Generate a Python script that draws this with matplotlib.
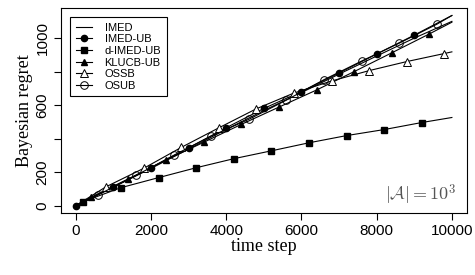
import matplotlib
matplotlib.use('Agg')
from matplotlib import pyplot as plt

# --------------------------- Data ---------------------------

imed_t = [0, 1000, 2000, 3000, 4000, 5000, 6000, 7000, 8000, 9000, 10000]
imed_y = [0, 110, 222, 338, 455, 568, 675, 785, 893, 1000, 1100]

imedub_t = [0, 1000, 2000, 3000, 4000, 5000, 6000, 7000, 8000, 9000, 10000]
imedub_y = [0, 113, 226, 345, 465, 580, 681, 792, 905, 1018, 1135]

dimedub_t = [0, 200, 1200, 2200, 3200, 4200, 5200, 6200, 7200, 8200, 9200, 10000]
dimedub_y = [0, 24, 107, 167, 226, 280, 327, 375, 418, 454, 496, 526]

klucbub_t = [0, 400, 1400, 2400, 3400, 4400, 5400, 6400, 7400, 8400, 9400, 10000]
klucbub_y = [0, 50, 160, 272, 378, 485, 588, 690, 800, 912, 1025, 1095]

ossb_t = [0, 800, 1800, 2800, 3800, 4800, 5800, 6800, 7800, 8800, 9800, 10000]
ossb_y = [0, 112, 222, 347, 464, 578, 672, 744, 806, 860, 908, 918]

osub_t = [0, 600, 1600, 2600, 3600, 4600, 5600, 6600, 7600, 8600, 9600, 10000]
osub_y = [0, 65, 180, 300, 415, 515, 630, 752, 863, 970, 1083, 1135]

y_ticks = [0, 200, 400, 600, 800, 1000]
y_tick_labels = ['0', '200', '', '600', '', '1000']
x_ticks = [0, 2000, 4000, 6000, 8000, 10000]

# --------------------------- Plot ---------------------------

fig = plt.figure(figsize=(4.75, 2.75), dpi=100)
ax = fig.add_axes([0.128, 0.225, 0.855, 0.746])

lw = 0.8
ms = 4.5
ax.plot(imed_t, imed_y, color='k', lw=lw, label='IMED')
ax.plot(imedub_t, imedub_y, color='k', lw=lw, marker='o', ms=ms,
        markevery=list(range(0, 10)), label='IMED-UB')
ax.plot(dimedub_t, dimedub_y, color='k', lw=lw, marker='s', ms=ms,
        markevery=list(range(1, 11)), label='d-IMED-UB')
ax.plot(klucbub_t, klucbub_y, color='k', lw=lw, marker='^', ms=ms,
        markevery=list(range(1, 11)), label='KLUCB-UB')
ax.plot(ossb_t, ossb_y, color='k', lw=lw, marker='^', ms=ms + 1,
        mfc='white', mew=0.7, markevery=list(range(1, 11)), label='OSSB')
ax.plot(osub_t, osub_y, color='k', lw=lw, marker='o', ms=ms + 1,
        mfc='none', mew=0.7, markevery=list(range(1, 11)), label='OSUB')

ax.set_xlim(-400, 10400)
ax.set_ylim(-45, 1180)
ax.set_xticks(x_ticks)
ax.set_yticks(y_ticks)
ax.set_yticklabels(y_tick_labels, rotation=90, va='center')
ax.tick_params(direction='out', length=5, width=0.8, labelsize=11, pad=3)
for lab in ax.get_xticklabels() + ax.get_yticklabels():
    lab.set_family('Liberation Sans')
for s in ax.spines.values():
    s.set_linewidth(0.8)

ax.set_xlabel('time step', family='Liberation Serif', fontsize=13, labelpad=0)
ax.set_ylabel('Bayesian regret', family='Liberation Serif', fontsize=13, labelpad=2)

plt.rcParams['mathtext.fontset'] = 'cm'
ax.text(0.975, 0.09, r'$|\mathcal{A}| = 10^3$', transform=ax.transAxes,
        ha='right', va='center', fontsize=13, color='#555555')

leg = ax.legend(loc='upper left', bbox_to_anchor=(0.023, 0.956), borderaxespad=0,
                fancybox=False, edgecolor='k', framealpha=1,
                prop={'family': 'Liberation Sans', 'size': 8},
                handlelength=1.5, handletextpad=1.1, labelspacing=0.15,
                borderpad=0.5)
leg.get_frame().set_linewidth(0.8)

fig.savefig('out.png', dpi=100)
